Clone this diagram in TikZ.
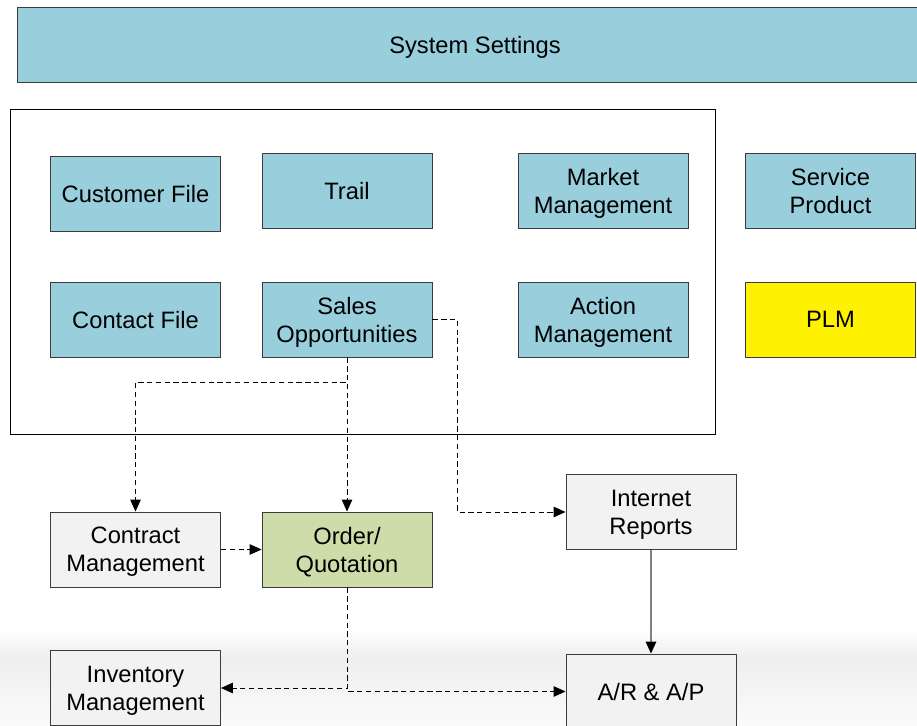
\documentclass[tikz,border=0pt]{standalone}
\usepackage{fontspec}
\setmainfont{Liberation Sans}
\usetikzlibrary{positioning,arrows.meta}
\definecolor{modblue}{RGB}{153,207,221}
\definecolor{modgray}{RGB}{242,242,242}
\definecolor{modgreen}{RGB}{205,220,168}
\definecolor{edgegray}{RGB}{60,60,60}
\definecolor{bandgray}{RGB}{238,238,238}
\definecolor{bandlight}{RGB}{251,251,251}

\begin{document}
\begin{tikzpicture}[x=0.02cm,y=-0.02cm,
  module/.style={draw=edgegray,line width=0.55pt,minimum width=3.4cm,minimum height=1.5cm,
    inner sep=0pt,text depth=0pt,align=center,font=\fontsize{13.5}{16}\selectfont},
  bluebox/.style={module,fill=modblue},
  graybox/.style={module,fill=modgray},
  link/.style={line width=0.5pt,dash pattern=on 3pt off 2pt,-{Triangle[length=6.8pt,width=6pt]}},
  solidlink/.style={line width=0.8pt,draw=gray,-{Triangle[length=6.8pt,width=6pt,color=black]}}]
\useasboundingbox (0,0) rectangle (917,726);
% soft band at the bottom
\fill[top color=white,bottom color=bandgray] (0,628) rectangle (917,658);
\fill[top color=bandgray,bottom color=bandlight] (0,658) rectangle (917,726);

\node[bluebox,minimum width=18.32cm] (settings) at (475,45) {System Settings};
\draw[line width=0.45pt] (10,109) rectangle (715,434);

\node[bluebox] (customer) at (135.5,194) {Customer File};
\node[bluebox] (trail) at (347,190.5) {Trail};
\node[bluebox] (market) at (603,190.5) {Market\\Management};
\node[bluebox] (service) at (830.5,190.5) {Service\\Product};
\node[bluebox] (contact) at (135.5,319.5) {Contact File};
\node[bluebox] (sales) at (347,319.5) {Sales\\Opportunities};
\node[bluebox] (action) at (603,319.5) {Action\\Management};
\node[module,fill=yellow] (plm) at (830.5,319.5) {PLM};

\node[graybox] (contract) at (135.5,549.5) {Contract\\Management};
\node[module,fill=modgreen] (order) at (347,549.5) {Order/\\Quotation};
\node[graybox] (inet) at (651,512) {Internet\\Reports};
\node[graybox] (inventory) at (135.5,688) {Inventory\\Management};
\node[graybox] (arap) at (651,691.5) {A/R \& A/P};

% connectors
\draw[link] (sales.south) -- ++(0,25) -| (contract.north);
\draw[link] (sales.south) -- (order.north);
\draw[link] (sales.east) -- ++(25,0) |- (inet.west);
\draw[link] (contract.east) -- (order.west);
\draw[link] (order.south) |- (inventory.east);
\draw[link] (order.south) |- (arap.west);
\draw[solidlink] (inet.south) -- (arap.north);
\end{tikzpicture}
\end{document}
